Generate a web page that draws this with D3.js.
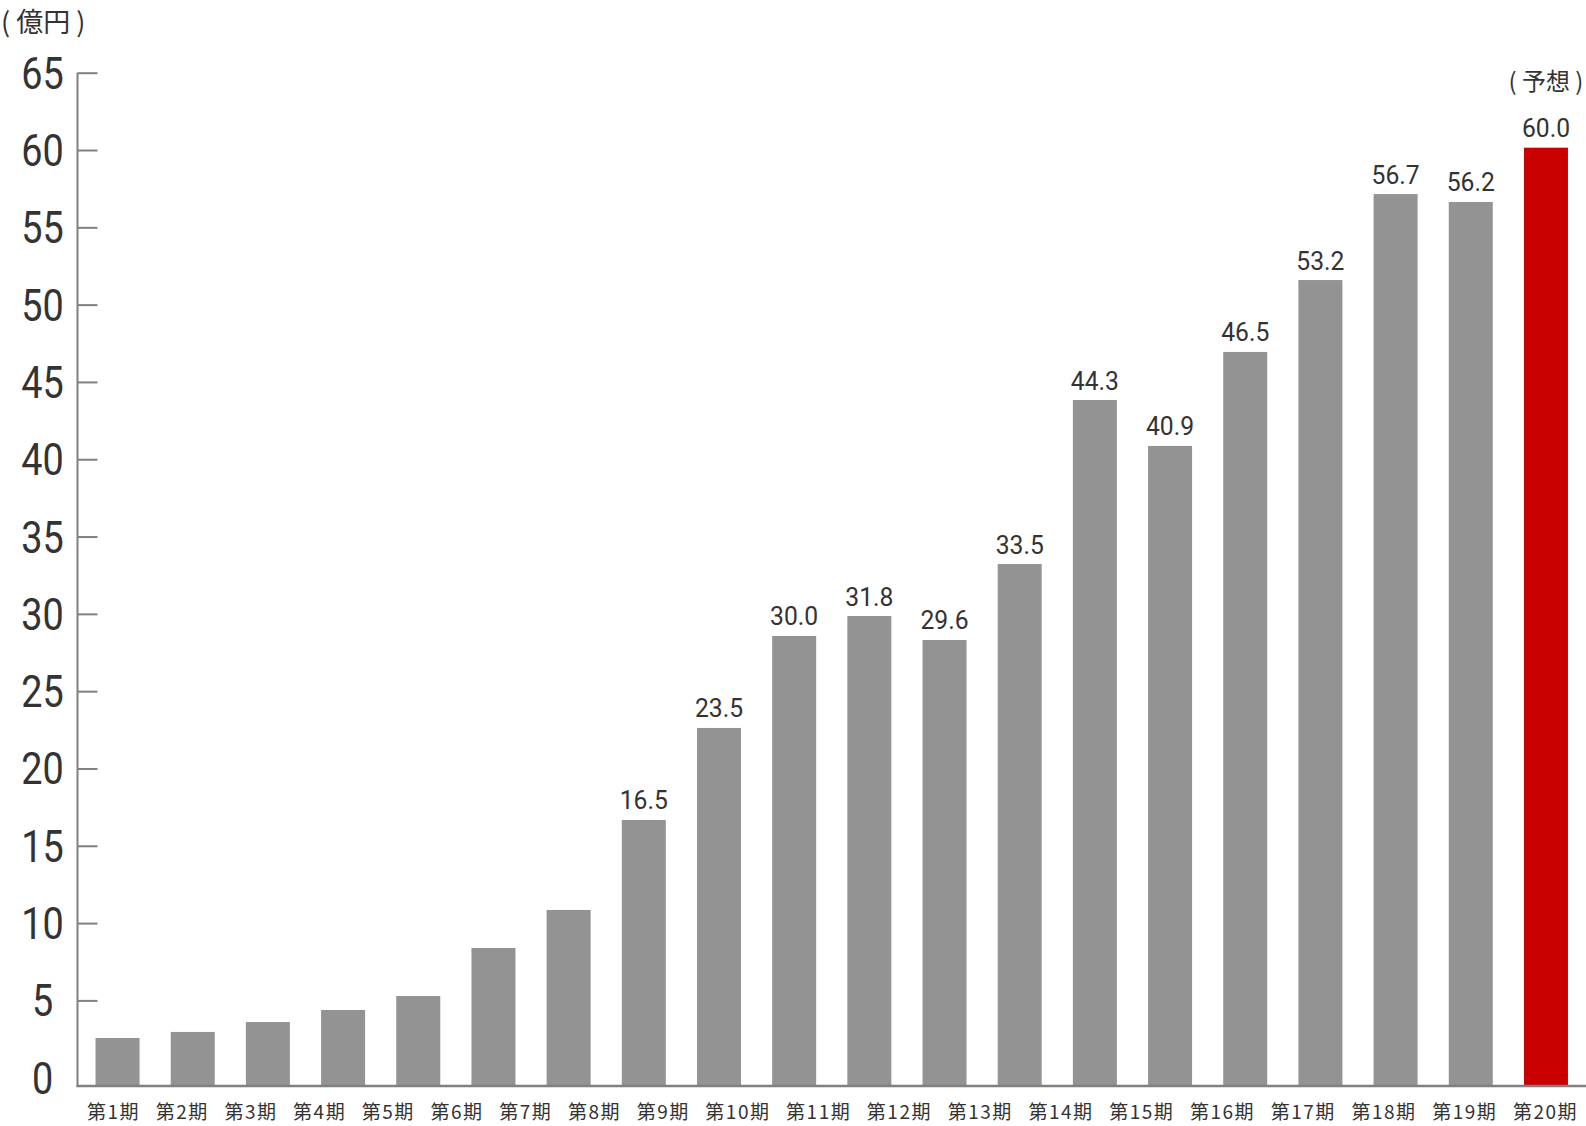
<!DOCTYPE html>
<html><head><meta charset="utf-8">
<script src="https://cdn.jsdelivr.net/npm/d3@7"></script>
<style>
html,body{margin:0;padding:0;background:#fff;}
svg{display:block;}
</style>
</head><body>
<svg id="chart" width="1586" height="1126"></svg>
<script>
// ---- data ----
const categories = ["第1期","第2期","第3期","第4期","第5期","第6期","第7期","第8期","第9期","第10期",
  "第11期","第12期","第13期","第14期","第15期","第16期","第17期","第18期","第19期","第20期"];
// bar heights as drawn in the picture
const barValues = [2.57,2.96,3.60,4.38,5.28,8.39,10.85,16.67,22.62,28.57,
  29.86,28.31,33.22,43.83,40.86,46.94,51.59,57.15,56.64,60.15];
// printed value labels (null = no label)
const valueLabels = [null,null,null,null,null,null,null,"16.5","23.5","30.0",
  "31.8","29.6","33.5","44.3","40.9","46.5","53.2","56.7","56.2","60.0"];
const forecast = [false,false,false,false,false,false,false,false,false,false,
  false,false,false,false,false,false,false,false,false,true];
const yTicks = [0,5,10,15,20,25,30,35,40,45,50,55,60,65];
const unitLabel = "( 億円 )";
const forecastLabel = "( 予想 )";

// ---- layout ----
const W = 1586, H = 1126;
const axisX = 77.5, baseY = 1086;
const svg = d3.select("#chart");

const y = d3.scaleLinear().domain([0,65]).range([1077.7,72.7]);
const x = d3.scaleBand().domain(categories).range([axisX, W])
  .paddingInner(0.4146).paddingOuter(0.24);

const axisColor = "#808080";
const textColor = "#333333";
const numFont = "Roboto, 'DejaVu Sans', sans-serif";
const cjkFont = "'Noto Sans CJK JP', 'Noto Sans', sans-serif";

// bars
svg.append("g").selectAll("rect").data(categories).join("rect")
  .attr("x", d => x(d))
  .attr("width", x.bandwidth())
  .attr("y", (d,i) => y(barValues[i]))
  .attr("height", (d,i) => baseY - y(barValues[i]))
  .attr("fill", (d,i) => forecast[i] ? "#c80000" : "#939393");

// y axis
const yAxis = d3.axisLeft(y).tickValues(yTicks.filter(t => t > 0)).tickSize(-20).tickFormat("");
const gy = svg.append("g").attr("transform", `translate(${axisX},0)`).call(yAxis);
gy.select(".domain").remove();
gy.selectAll(".tick line").attr("stroke", axisColor).attr("stroke-width", 2);
svg.append("line").attr("x1", axisX).attr("x2", axisX).attr("y1", y(65)).attr("y2", baseY + 1)
  .attr("stroke", axisColor).attr("stroke-width", 2);
svg.append("line").attr("x1", axisX - 1).attr("x2", W).attr("y1", baseY).attr("y2", baseY)
  .attr("stroke", axisColor).attr("stroke-width", 2.5);

// y tick labels (slightly condensed digits)
svg.append("g").selectAll("text").data(yTicks).join("text")
  .attr("transform", d => `translate(42.5,${y(d)}) scale(0.85,1)`)
  .attr("dy", "0.36em")
  .attr("text-anchor", "middle")
  .attr("font-family", numFont)
  .attr("font-size", 44.5)
  .attr("fill", textColor)
  .text(d => d);

// value labels
const labelled = categories.map((c,i) => ({c, i})).filter(d => valueLabels[d.i] !== null);
svg.append("g").selectAll("text").data(labelled).join("text")
  .attr("transform", d => `translate(${x(d.c) + x.bandwidth()/2},${y(barValues[d.i]) - 10.5}) scale(0.95,1)`)
  .attr("text-anchor", "middle")
  .attr("font-family", numFont)
  .attr("font-size", 26)
  .attr("fill", textColor)
  .text(d => valueLabels[d.i]);

// forecast note
const fi = forecast.indexOf(true);
svg.append("text")
  .attr("x", x(categories[fi]) + x.bandwidth()/2)
  .attr("y", y(barValues[fi]) - 58)
  .attr("text-anchor", "middle")
  .attr("font-family", cjkFont)
  .attr("font-size", 24)
  .attr("fill", textColor)
  .style("white-space", "pre")
  .text(forecastLabel);

// unit label
svg.append("text")
  .attr("x", 1).attr("y", 32)
  .attr("font-family", cjkFont)
  .attr("font-size", 27)
  .attr("fill", textColor)
  .style("white-space", "pre")
  .text(unitLabel);

// x labels: flow layout justified across the bottom
const xl = svg.append("g").selectAll("text").data(categories).join("text")
  .attr("y", 1119)
  .attr("font-family", cjkFont)
  .attr("font-size", 19)
  .attr("letter-spacing", "1.5px")
  .attr("fill", textColor)
  .text(d => d);
const widths = [];
xl.each(function(){ widths.push(this.getComputedTextLength()); });
const startX = 87, endX = 1578;
const gap = (endX - startX - d3.sum(widths)) / (categories.length - 1);
let cx = startX;
xl.each(function(d,i){ d3.select(this).attr("x", cx); cx += widths[i] + gap; });
</script>
</body></html>
